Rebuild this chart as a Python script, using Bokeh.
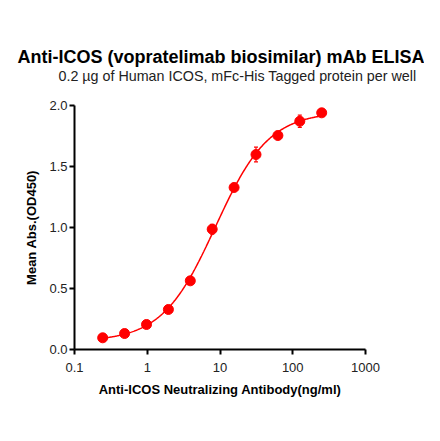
from bokeh.plotting import figure
from bokeh.models import FixedTicker, Title, Whisker, ColumnDataSource, TeeHead
from bokeh.embed import file_html
from bokeh.resources import INLINE
import numpy as np

# dados
conc = [0.244, 0.488, 0.977, 1.953, 3.906, 7.8125, 15.625, 31.25, 62.5, 125, 250]
od450 = [0.096, 0.131, 0.205, 0.328, 0.563, 0.986, 1.328, 1.598, 1.754, 1.871, 1.940]
erro = [0.006, 0.008, 0.010, 0.020, 0.012, 0.040, 0.020, 0.060, 0.012, 0.050, 0.012]

x_ticks = [0.1, 1, 10, 100, 1000]
x_tick_labels = ["0.1", "1", "10", "100", "1000"]
y_ticks = [0.0, 0.5, 1.0, 1.5, 2.0]

titulo = "Anti-ICOS (vopratelimab biosimilar) mAb ELISA"
subtitulo = "0.2 \u00b5g of Human ICOS, mFc-His Tagged protein per well"

FONT = "Liberation Sans"


# ajuste logistico de 4 parametros (minimos quadrados, Levenberg-Marquardt simples)
def modelo(p, x):
    a, d, logc, b = p
    return d + (a - d) / (1 + (x / 10 ** logc) ** b)


x = np.array(conc)
y = np.array(od450)
p = np.array([0.05, 2.0, 1.0, 1.2])
lam = 1e-3
for _ in range(300):
    r = y - modelo(p, x)
    J = np.zeros((len(x), 4))
    for k in range(4):
        dp = np.zeros(4)
        dp[k] = 1e-6
        J[:, k] = (modelo(p + dp, x) - modelo(p - dp, x)) / 2e-6
    A = J.T @ J
    step = np.linalg.solve(A + lam * np.diag(np.diag(A)), J.T @ r)
    novo = p + step
    if np.sum((y - modelo(novo, x)) ** 2) < np.sum(r ** 2):
        p = novo
        lam *= 0.5
    else:
        lam *= 4

xs = np.logspace(np.log10(conc[0]), np.log10(conc[-1]), 300)
ys = modelo(p, xs)

p_fig = figure(width=424, height=425, x_axis_type="log",
               x_range=(0.1, 1000), y_range=(0, 2.0),
               output_backend="svg", toolbar_location=None,
               min_border_left=74, min_border_right=59,
               min_border_top=105, min_border_bottom=76)
p_fig.frame_width = 291
p_fig.frame_height = 244
p_fig.outline_line_color = None
p_fig.grid.grid_line_color = None

p_fig.line(xs, ys, line_color="#ff0000", line_width=1.5)

src = ColumnDataSource(dict(x=conc, y=od450,
                            lo=[v - e for v, e in zip(od450, erro)],
                            hi=[v + e for v, e in zip(od450, erro)]))
p_fig.add_layout(Whisker(source=src, base="x", lower="lo", upper="hi",
                         line_color="#ff0000", line_width=1.2,
                         upper_head=TeeHead(size=4, line_color="#ff0000", line_width=1.2),
                         lower_head=TeeHead(size=4, line_color="#ff0000", line_width=1.2)))
p_fig.scatter("x", "y", source=src, size=10, color="#ff0000")

for ax in (p_fig.xaxis, p_fig.yaxis):
    ax.axis_line_width = 2
    ax.axis_line_color = "black"
    ax.major_tick_line_width = 2
    ax.major_tick_in = 0
    ax.major_tick_out = 5
    ax.minor_tick_line_color = None
    ax.major_label_text_font = FONT
    ax.major_label_text_font_size = "13px"
    ax.major_label_text_color = "#222222"
    ax.axis_label_text_font = FONT
    ax.axis_label_text_font_size = "13px"
    ax.axis_label_text_font_style = "bold"
    ax.axis_label_text_color = "black"

p_fig.xaxis.ticker = FixedTicker(ticks=x_ticks)
p_fig.xaxis.major_label_overrides = {t: s for t, s in zip(x_ticks, x_tick_labels)}
p_fig.xaxis.major_label_standoff = 8
p_fig.xaxis.axis_label = "Anti-ICOS Neutralizing Antibody(ng/ml)"
p_fig.xaxis.axis_label_standoff = 7

p_fig.yaxis.ticker = FixedTicker(ticks=y_ticks)
p_fig.yaxis.major_label_overrides = {t: f"{t:.1f}" for t in y_ticks}
p_fig.yaxis.major_label_standoff = 2
p_fig.yaxis.axis_label = "Mean Abs.(OD450)"
p_fig.yaxis.axis_label_standoff = 7

# titulos: o primeiro adicionado fica mais perto do quadro
# (um titulo vazio serve de espacador entre o subtitulo e o grafico)
p_fig.add_layout(Title(text=" ", text_font_size="10px", standoff=9), "above")
p_fig.add_layout(Title(text=subtitulo, text_font=FONT, text_font_size="14.3px",
                       text_font_style="normal", text_color="#222222",
                       align="left", offset=-16, standoff=0), "above")
p_fig.add_layout(Title(text=titulo, text_font=FONT, text_font_size="18px",
                       text_font_style="bold", text_color="black",
                       align="left", offset=-57, standoff=-2), "above")

open("out.html", "w").write(file_html(p_fig, INLINE))
